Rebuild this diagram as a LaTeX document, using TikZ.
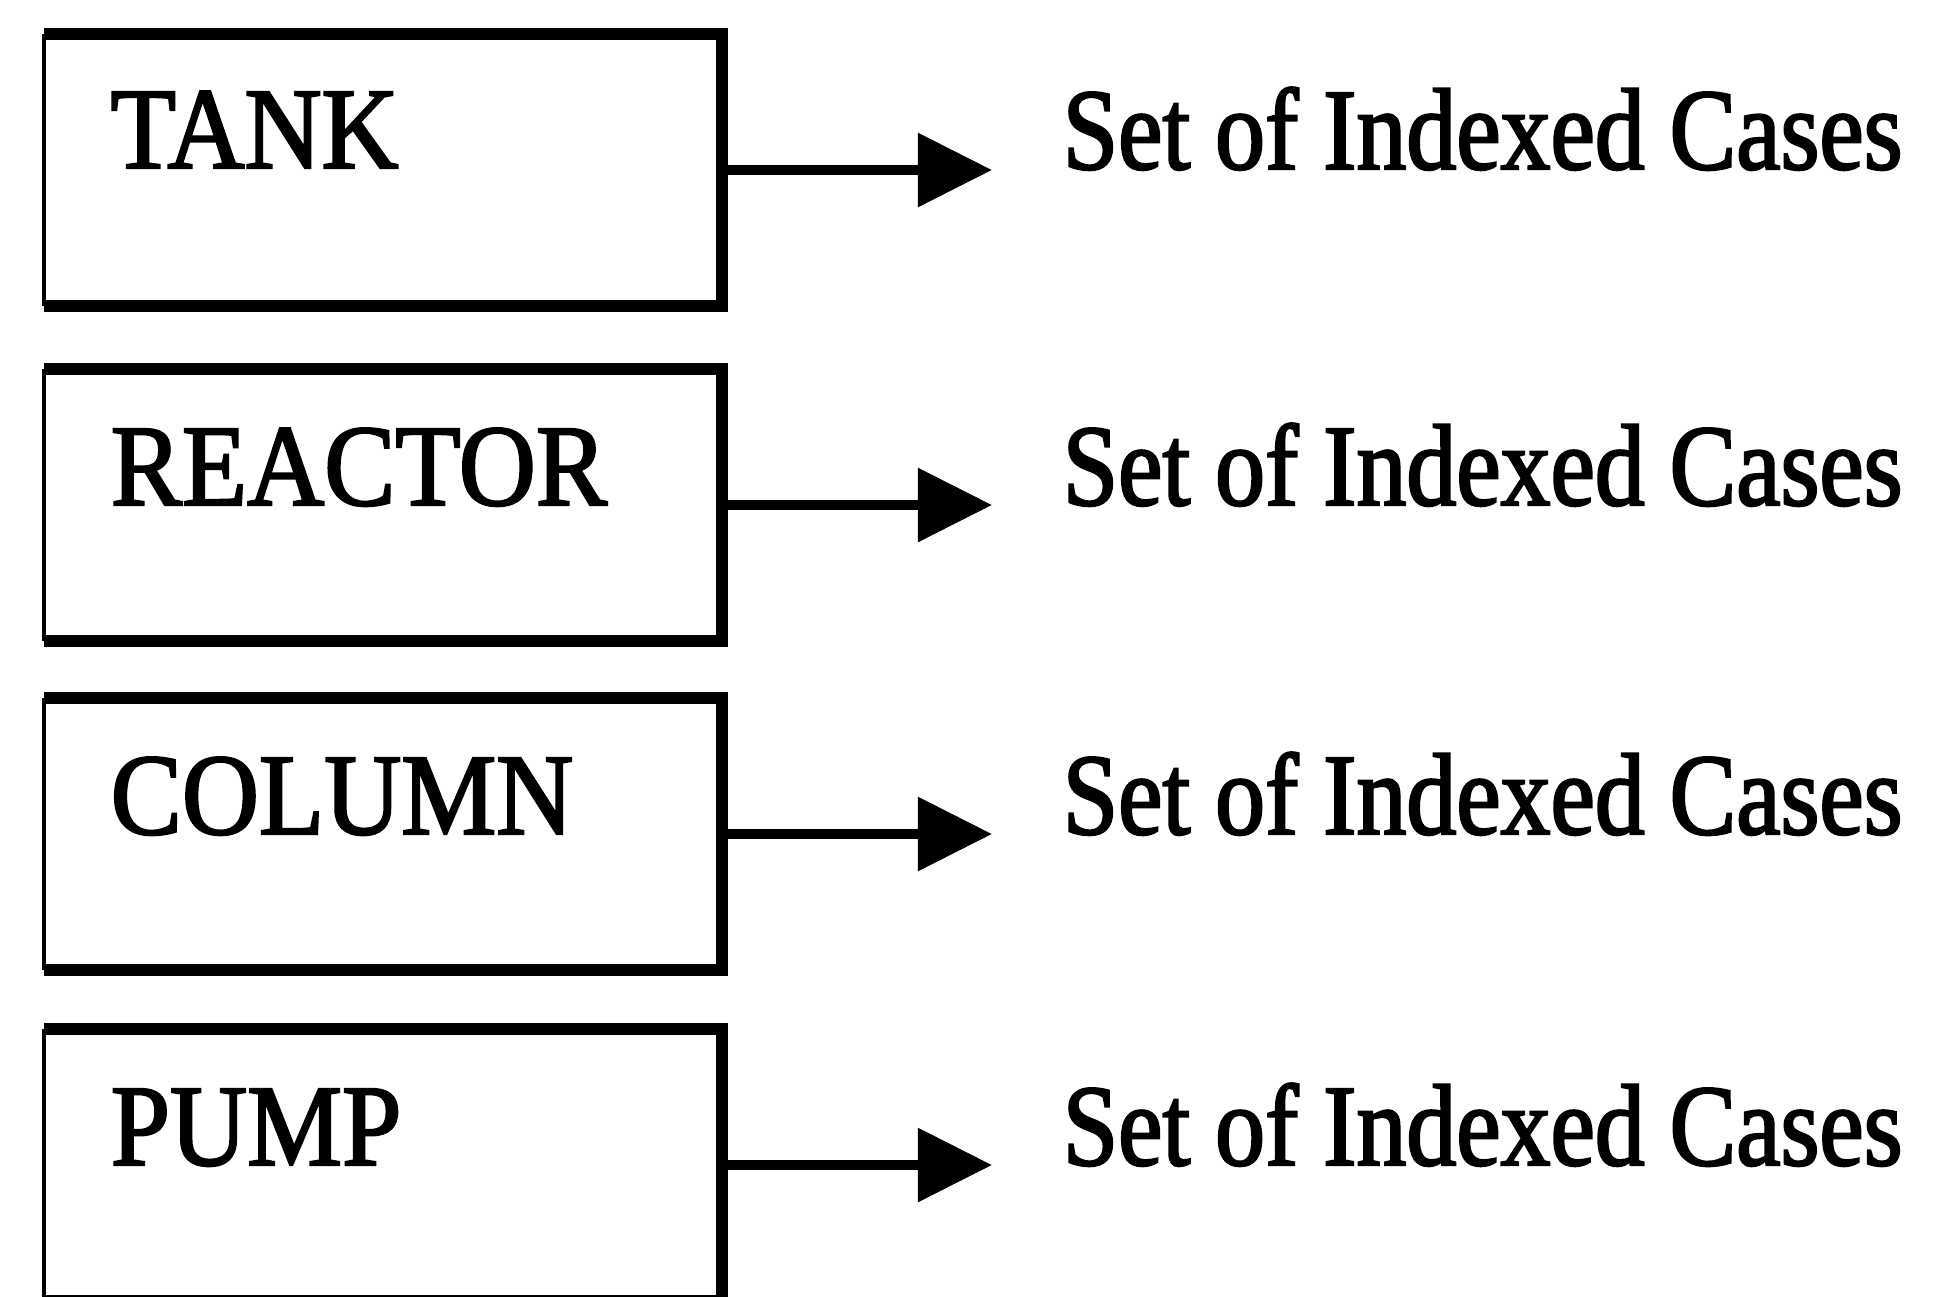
\documentclass[tikz,border=0pt]{standalone}
\usepackage{fontspec}
\setmainfont[FakeStretch=0.86, FakeBold=2]{Liberation Serif}
\newfontfamily\namefont[FakeStretch=0.92, FakeBold=2]{Liberation Serif}
\usetikzlibrary{arrows.meta}

\tikzset{
  unit/.style={rectangle, minimum width=6.76cm, minimum height=2.7cm, inner sep=0pt},
  unitname/.style={anchor=base west, inner sep=0pt, font=\namefont\fontsize{33}{40}\selectfont},
  cases/.style={anchor=base west, inner sep=0pt, font=\fontsize{33}{40}\selectfont},
  heavy/.style={line width=3.4pt},
  light/.style={line width=1.3pt},
  flow/.style={line width=2.7pt, -{Triangle[length=0.74cm, width=0.72cm]}, shorten >=0.7cm},
}

\begin{document}
\begin{tikzpicture}[x=0.01cm, y=-0.01cm]
  \useasboundingbox[fill=white] (0,0) rectangle (1943,1296);
  \clip (0,0) rectangle (1943,1296);

  % equipment boxes
  \node[unit] (tank) at (383,170) {};
  \node[unit] (reactor) at (383,505) {};
  \node[unit] (column) at (383,834) {};
  \node[unit] (pump) at (383,1165) {};

  \node[unitname] (tank name) at (110,168) {TANK};
  \node[unitname] (reactor name) at (110,505) {REACTOR};
  \node[unitname] (column name) at (110,834) {COLUMN};
  \node[unitname] (pump name) at (110,1165) {PUMP};

  % outlines: heavy top, right and bottom, thin left side
  \draw[heavy] (tank.north west) -- (tank.north east) -- (tank.south east) -- (tank.south west);
  \draw[light] (tank.south west) -- (tank.north west);
  \draw[heavy] (reactor.north west) -- (reactor.north east) -- (reactor.south east) -- (reactor.south west);
  \draw[light] (reactor.south west) -- (reactor.north west);
  \draw[heavy] (column.north west) -- (column.north east) -- (column.south east) -- (column.south west);
  \draw[light] (column.south west) -- (column.north west);
  \draw[heavy] (pump.north west) -- (pump.north east) -- (pump.south east) -- (pump.south west);
  \draw[light] (pump.south west) -- (pump.north west);

  % case sets
  \node[cases] (tank cases) at (1062,169) {Set of Indexed Cases};
  \node[cases] (reactor cases) at (1062,505) {Set of Indexed Cases};
  \node[cases] (column cases) at (1062,834) {Set of Indexed Cases};
  \node[cases] (pump cases) at (1062,1165) {Set of Indexed Cases};

  \draw[flow] (tank.east) -- (tank.east -| tank cases.west);
  \draw[flow] (reactor.east) -- (reactor.east -| reactor cases.west);
  \draw[flow] (column.east) -- (column.east -| column cases.west);
  \draw[flow] (pump.east) -- (pump.east -| pump cases.west);
\end{tikzpicture}
\end{document}
